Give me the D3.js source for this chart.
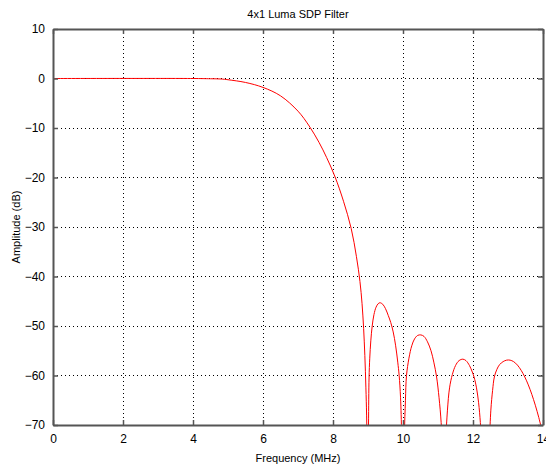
<!DOCTYPE html>
<html><head><meta charset="utf-8">
<script src="https://cdn.jsdelivr.net/npm/d3@7"></script>
<style>body{margin:0;background:#fff}svg{display:block}text{font-family:"Liberation Sans",Arial,sans-serif;fill:#000}</style>
</head><body>
<script>
const title = "4x1 Luma SDP Filter";
const xLabel = "Frequency (MHz)";
const yLabel = "Amplitude (dB)";
const xTicks = [0,2,4,6,8,10,12,14];
const yTicks = [10,0,-10,-20,-30,-40,-50,-60,-70];
const freq = [0,4.0,4.5,4.8,5.0,5.5,6.0,6.5,7.0,7.32,7.6,7.82,8.06,8.3,8.52,8.67,8.77,8.83,8.875,8.91,8.94,8.96,8.98,
  9.0,9.015,9.03,9.05,9.08,9.12,9.17,9.23,9.29,9.34,9.42,9.5,9.58,9.65,9.72,9.79,9.85,9.89,9.93,9.96,9.985,
  10.02,10.04,10.07,10.1,10.17,10.25,10.33,10.42,10.51,10.6,10.7,10.8,10.88,10.96,11.03,11.09,11.13,11.16,
  11.19,11.22,11.27,11.33,11.41,11.5,11.6,11.71,11.8,11.9,11.98,12.03,12.1,12.16,12.21,12.25,12.28,
  12.44,12.47,12.51,12.56,12.61,12.68,12.76,12.86,12.96,13.06,13.16,13.27,13.38,13.48,13.58,13.68,13.78,13.88,13.96];
const amp = [0,0,-0.05,-0.1,-0.25,-0.8,-1.8,-3.5,-6.6,-9.6,-12.9,-16.0,-19.9,-24.8,-30.3,-36,-41,-45.5,-50.5,-56,-62.5,-68,-77,
  -90,-70,-60.5,-56.5,-53,-50,-47.7,-46.2,-45.5,-45.3,-45.6,-46.5,-47.9,-49.3,-51.2,-54,-57.3,-60,-64.5,-72,-90,
  -85,-72,-65,-60,-56.5,-54,-52.6,-51.9,-51.8,-52.1,-53.2,-55,-57.3,-60.3,-64.5,-69.5,-76,-90,
  -90,-74,-67,-62.5,-59.8,-58,-57,-56.7,-57,-58,-59.3,-60.3,-62.5,-65.5,-69.5,-75,-90,
  -90,-74,-67,-63,-60.3,-58.8,-57.8,-57.2,-56.9,-56.9,-57.2,-57.9,-59.0,-60.3,-61.9,-63.8,-66.0,-68.5,-70.8];

const W = 546, H = 469;
const m = {l:53, r:3, t:29, b:44};
const svg = d3.select("body").append("svg").attr("width",W).attr("height",H);
const x = d3.scaleLinear().domain([0,14]).range([m.l, W-m.r]);
const y = d3.scaleLinear().domain([-70,10]).range([H-m.b, m.t]);

// grid
const g = svg.append("g");
xTicks.slice(1,-1).forEach(v=>{
  g.append("line").attr("x1",x(v)).attr("x2",x(v)).attr("y1",y(10)).attr("y2",y(-70))
   .attr("stroke","#000").attr("stroke-width",1).attr("stroke-dasharray","1,3").attr("shape-rendering","crispEdges");
});
yTicks.slice(1,-1).forEach(v=>{
  g.append("line").attr("x1",x(0)).attr("x2",x(14)).attr("y1",y(v)).attr("y2",y(v))
   .attr("stroke","#000").attr("stroke-width",1).attr("stroke-dasharray","1,3").attr("shape-rendering","crispEdges");
});

// curve
svg.append("clipPath").attr("id","clip").append("rect")
  .attr("x",x(0)).attr("y",y(10)).attr("width",x(14)-x(0)).attr("height",y(-70)-y(10));
const pts = freq.map((f,i)=>[f,amp[i]]);
svg.append("path").datum(pts).attr("clip-path","url(#clip)")
  .attr("d", d3.line().x(d=>x(d[0])).y(d=>y(d[1])).curve(d3.curveCatmullRom.alpha(0.5)))
  .attr("fill","none").attr("stroke","#ff0000").attr("stroke-width",1);

// axes
const axCol = "#555";
const xb = svg.append("g").attr("transform",`translate(0,${y(-70)})`).call(d3.axisBottom(x).tickValues(xTicks).tickSizeInner(-5).tickSizeOuter(0).tickPadding(9));
const xt = svg.append("g").attr("transform",`translate(0,${y(10)})`).call(d3.axisTop(x).tickValues(xTicks).tickSizeInner(-5).tickSizeOuter(0).tickFormat(""));
const yl = svg.append("g").attr("transform",`translate(${x(0)},0)`).call(d3.axisLeft(y).tickValues(yTicks).tickSizeInner(-5).tickSizeOuter(0).tickPadding(8));
const yr = svg.append("g").attr("transform",`translate(${x(14)},0)`).call(d3.axisRight(y).tickValues(yTicks).tickSizeInner(-5).tickSizeOuter(0).tickFormat(""));
[xb,xt,yl,yr].forEach(a=>{
  a.selectAll("path").attr("stroke",axCol).attr("stroke-width",2);
  a.selectAll("line").attr("stroke",axCol).attr("stroke-width",1.5);
  a.selectAll("text").attr("font-size",12).attr("font-family","Liberation Sans, Arial, sans-serif").attr("fill","#000");
});

svg.append("text").attr("x",(x(0)+x(14))/2).attr("y",18).attr("text-anchor","middle").attr("font-size",11).text(title);
svg.append("text").attr("x",(x(0)+x(14))/2).attr("y",462).attr("text-anchor","middle").attr("font-size",11).text(xLabel);
svg.append("text").attr("transform",`translate(20,${(y(10)+y(-70))/2}) rotate(-90)`).attr("text-anchor","middle").attr("font-size",11).text(yLabel);
</script>
</body></html>
